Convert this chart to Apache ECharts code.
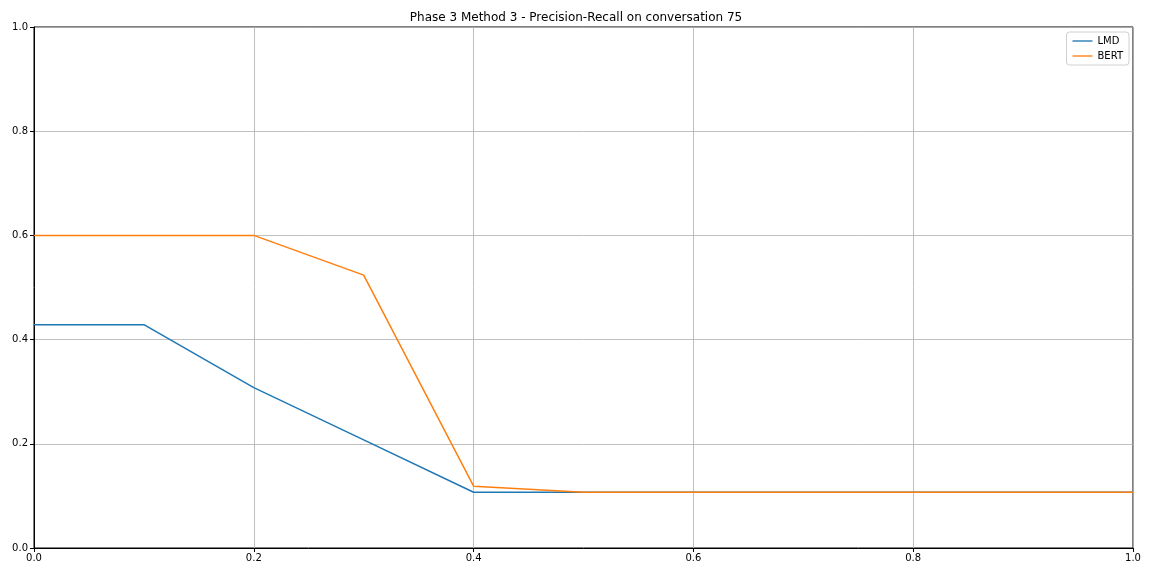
<!DOCTYPE html>
<html>
<head>
<meta charset="utf-8">
<script src="https://cdn.jsdelivr.net/npm/echarts@6/dist/echarts.min.js"></script>
<style>html,body{margin:0;padding:0;background:#fff;}#c{width:1152px;height:576px;}</style>
</head>
<body>
<div id="c"></div>
<script>
const recall = [0.0, 0.1, 0.2, 0.3, 0.4, 0.5, 0.6, 0.7, 0.8, 0.9, 1.0];
const lmdPrecision = [0.4286, 0.4286, 0.3077, 0.2075, 0.1071, 0.1071, 0.1071, 0.1071, 0.1071, 0.1071, 0.1071];
const bertPrecision = [0.6, 0.6, 0.6, 0.5238, 0.1186, 0.1071, 0.1071, 0.1071, 0.1071, 0.1071, 0.1071];
const xTicks = [0.0, 0.2, 0.4, 0.6, 0.8, 1.0];
const yTicks = [0.0, 0.2, 0.4, 0.6, 0.8, 1.0];
const titleText = 'Phase 3 Method 3 - Precision-Recall on conversation 75';

const chart = echarts.init(document.getElementById('c'), null, {renderer: 'canvas'});
const font = 'DejaVu Sans';
const linePath = 'path://M0,0 L30,0 L30,2 L0,2 Z';
chart.setOption({
  backgroundColor: '#fff',
  animation: false,
  title: {
    text: titleText, left: 'center', top: 7,
    textStyle: {fontFamily: font, fontSize: 12, fontWeight: 'normal', color: '#000'}
  },
  legend: {
    orient: 'vertical', right: 23, top: 32,
    backgroundColor: '#fff', borderColor: '#d0d0d0', borderWidth: 1, borderRadius: 3,
    padding: [4, 6, 4, 6], itemGap: 5, itemWidth: 20, itemHeight: 2,
    textStyle: {fontFamily: font, fontSize: 10, color: '#000'},
    data: [{name: 'LMD', icon: linePath}, {name: 'BERT', icon: linePath}]
  },
  grid: {left: 34, right: 19, top: 27, bottom: 28, show: true, borderColor: '#000', borderWidth: 1, containLabel: false},
  xAxis: {
    type: 'value', min: 0, max: 1, interval: 0.2,
    axisLine: {show: true, lineStyle: {color: '#000', width: 1}},
    axisTick: {show: true, length: 4, lineStyle: {color: '#000'}},
    axisLabel: {fontFamily: font, fontSize: 10, color: '#000', margin: 5,
      formatter: v => { const t = xTicks.find(x => Math.abs(x - v) < 1e-9); return t === undefined ? '' : t.toFixed(1); }},
    splitLine: {show: true, lineStyle: {color: '#b0b0b0', width: 0.8}}
  },
  yAxis: {
    type: 'value', min: 0, max: 1, interval: 0.2,
    axisLine: {show: true, lineStyle: {color: '#000', width: 1}},
    axisTick: {show: true, length: 4, lineStyle: {color: '#000'}},
    axisLabel: {fontFamily: font, fontSize: 10, color: '#000', margin: 6,
      formatter: v => { const t = yTicks.find(x => Math.abs(x - v) < 1e-9); return t === undefined ? '' : t.toFixed(1); }},
    splitLine: {show: true, lineStyle: {color: '#b0b0b0', width: 0.8}}
  },
  series: [
    {name: 'LMD', type: 'line', data: recall.map((r, i) => [r, lmdPrecision[i]]),
     showSymbol: false, symbol: 'none', lineStyle: {color: '#1f77b4', width: 1.5}, itemStyle: {color: '#1f77b4'}},
    {name: 'BERT', type: 'line', data: recall.map((r, i) => [r, bertPrecision[i]]),
     showSymbol: false, symbol: 'none', lineStyle: {color: '#ff7f0e', width: 1.5}, itemStyle: {color: '#ff7f0e'}}
  ]
});
</script>
</body>
</html>
